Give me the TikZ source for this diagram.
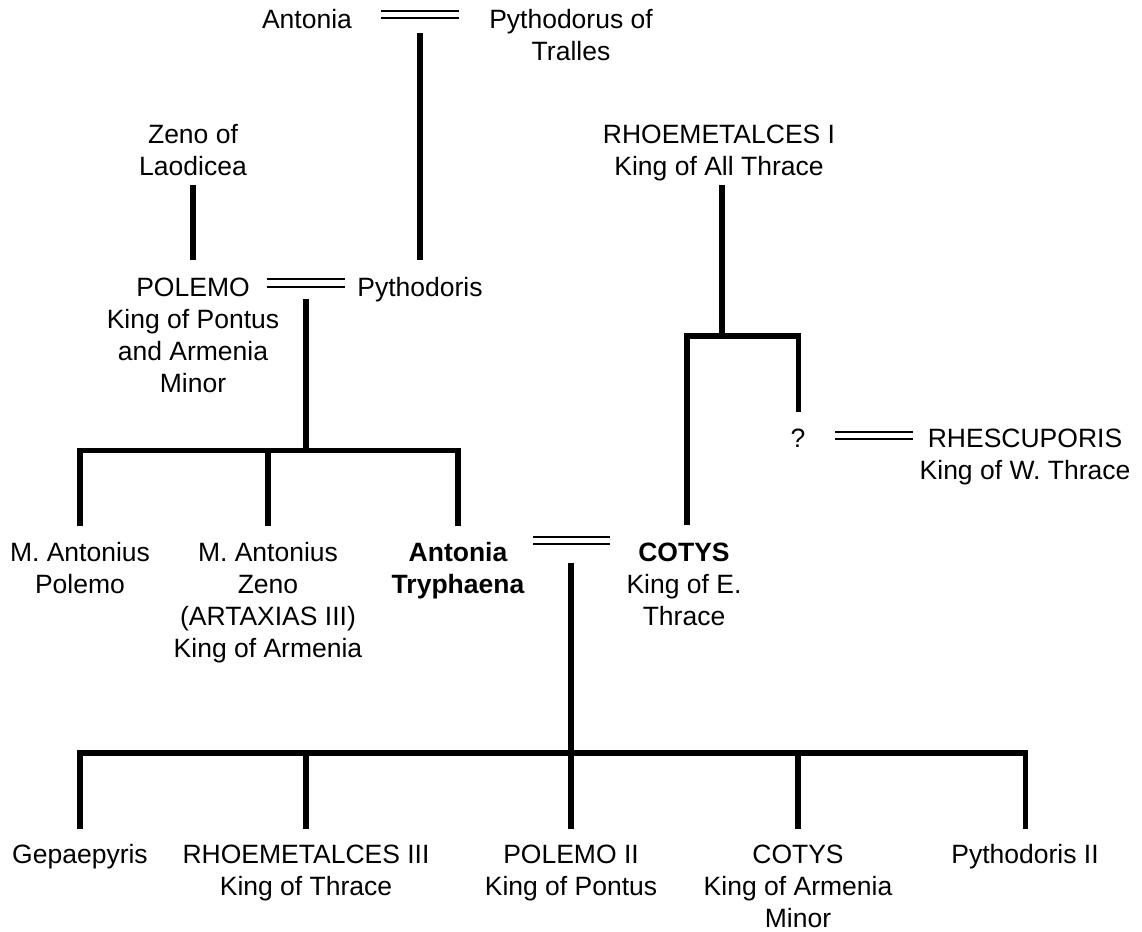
\documentclass[tikz,border=0pt]{standalone}
\usepackage{fontspec}
\setmainfont{Liberation Sans}
% centred multi-line label whose baseline is that of its first line
\newcommand\namestack[1]{\begin{tabular}[t]{@{}c@{}}#1\end{tabular}}
\begin{document}
\begin{tikzpicture}[x=1pt,y=-1pt,
  person/.style={anchor=base, inner sep=0pt, text=black,
                 font=\fontsize{26.5}{32}\selectfont},
  kin/.style={line width=5.5pt, black},
  wed/.style={double, line width=2pt, double distance=5.5pt, draw=black}]
\useasboundingbox (0,0) rectangle (1142,931);

% ---- people ----
\node[person] (antonia)    at (307,28.5)  {Antonia};
\node[person] (pythodorus) at (571,28.5)  {\namestack{Pythodorus of\\Tralles}};
\node[person] (zeno)       at (193,143)   {\namestack{Zeno of\\Laodicea}};
\node[person] (polemo)     at (193,296.5) {\namestack{POLEMO\\King of Pontus\\and Armenia\\Minor}};
\node[person] (pythodoris) at (420,296.5) {Pythodoris};
\node[person] (rhoem)      at (719,143)   {\namestack{RHOEMETALCES I\\King of All Thrace}};
\node[person] (unknown)    at (798,447)   {?};
\node[person] (rhesc)      at (1025,447)  {\namestack{RHESCUPORIS\\King of W. Thrace}};
\node[person] (mapolemo)   at (80,561)    {\namestack{M. Antonius\\Polemo}};
\node[person] (mazeno)     at (268,561)   {\namestack{M. Antonius\\Zeno\\(ARTAXIAS III)\\King of Armenia}};
\node[person] (tryphaena)  at (458,561)   {\namestack{\bfseries Antonia\\\bfseries Tryphaena}};
\node[person] (cotys)      at (684,561)   {\namestack{\bfseries COTYS\\King of E.\\Thrace}};
\node[person] (gepa)       at (80,863.5)  {Gepaepyris};
\node[person] (rhoem3)     at (306,863.5) {\namestack{RHOEMETALCES III\\King of Thrace}};
\node[person] (polemo2)    at (571,863.5) {\namestack{POLEMO II\\King of Pontus}};
\node[person] (cotys2)     at (798,863.5) {\namestack{COTYS\\King of Armenia\\Minor}};
\node[person] (pyth2)      at (1025,863.5){Pythodoris II};

% ---- marriages ----
\coordinate (w1a) at (381,14.7);  \coordinate (w1b) at (459,14.7);
\coordinate (w2a) at (267,283);   \coordinate (w2b) at (345,283);
\coordinate (w3a) at (533,540.7); \coordinate (w3b) at (610,540.7);
\coordinate (w4a) at (835,435.5); \coordinate (w4b) at (913,435.5);
\draw[wed] (w1a) -- (w1b);
\draw[wed] (w2a) -- (w2b);
\draw[wed] (w3a) -- (w3b);
\draw[wed] (w4a) -- (w4b);

% ---- descent ----
% Antonia & Pythodorus -> Pythodoris
\coordinate (d1top) at (420,33);   \coordinate (d1bot) at (420,260);
\draw[kin] (d1top) -- (d1bot);
% Zeno -> Polemo
\coordinate (d2top) at (193,185);  \coordinate (d2bot) at (193,260);
\draw[kin] (d2top) -- (d2bot);
% Polemo & Pythodoris -> children
\coordinate (d3top) at (306,299);  \coordinate (d3bar) at (306,450.5);
\coordinate (c1top) at (80,450.5); \coordinate (c1bot) at (80,526);
\coordinate (c2top) at (268,450.5);\coordinate (c2bot) at (268,526);
\coordinate (c3top) at (458,450.5);\coordinate (c3bot) at (458,526);
\draw[kin] (d3top) -- (d3bar);
\draw[kin] (c1bot) -- (c1top) -- (c3top) -- (c3bot);
\draw[kin] (c2top) -- (c2bot);
% Rhoemetalces I -> Cotys and ?
\coordinate (d4top) at (722,185);  \coordinate (d4bar) at (722,336);
\coordinate (r1top) at (687,336);  \coordinate (r1bot) at (687,525);
\coordinate (r2top) at (798.5,336);\coordinate (r2bot) at (798.5,412);
\draw[kin] (d4top) -- (d4bar);
\draw[kin] (r1bot) -- (r1top) -- (r2top) -- (r2bot);
% Tryphaena & Cotys -> children
\coordinate (d5top) at (571,563);  \coordinate (d5bot) at (571,829);
\coordinate (k1top) at (80,753);   \coordinate (k1bot) at (80,829);
\coordinate (k2top) at (306,753);  \coordinate (k2bot) at (306,829);
\coordinate (k4top) at (798,753);  \coordinate (k4bot) at (798,829);
\coordinate (k5top) at (1025.5,753);\coordinate (k5bot) at (1025.5,829);
\draw[kin] (d5top) -- (d5bot);
\draw[kin] (k1bot) -- (k1top) -- (k5top) -- (k5bot);
\draw[kin] (k2top) -- (k2bot);
\draw[kin] (k4top) -- (k4bot);
\end{tikzpicture}
\end{document}
